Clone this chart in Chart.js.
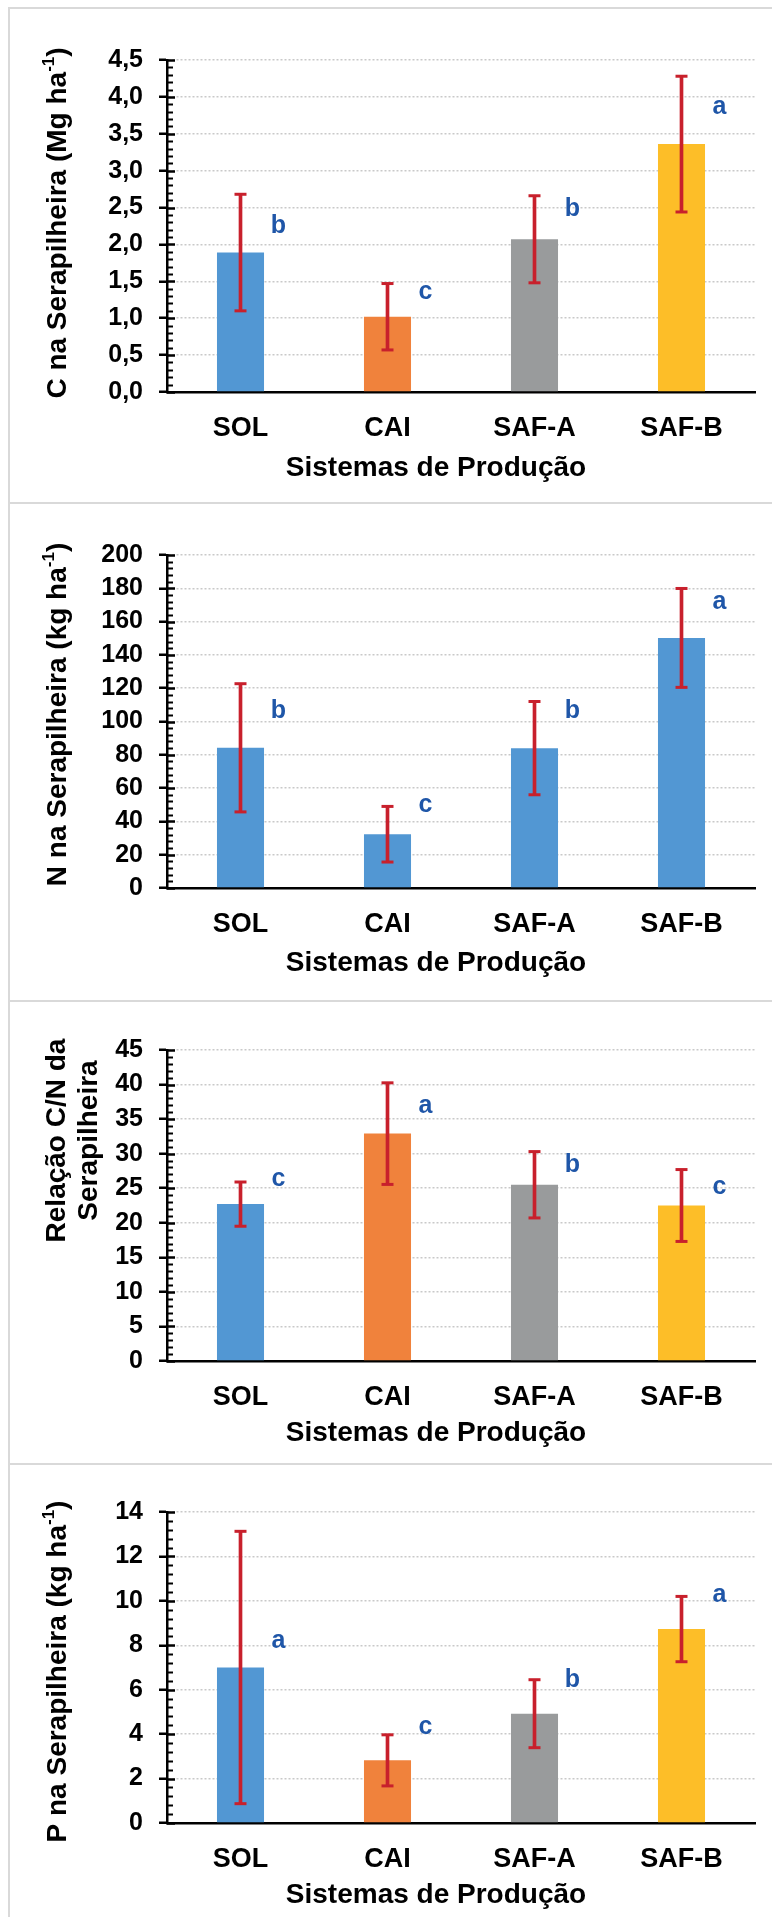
<!DOCTYPE html>
<html lang="pt-BR">
<head>
<meta charset="utf-8">
<title>Serapilheira por sistema de produção</title>
<script src="https://cdn.jsdelivr.net/npm/chart.js@4.4.1/dist/chart.umd.min.js"></script>
<style>
  html, body { margin: 0; padding: 0; background: #fff; }
  body { width: 772px; height: 1917px; position: relative; overflow: hidden; }
  .rule { position: absolute; background: #D9D9D9; }
  .panel { position: absolute; left: 0; width: 772px; }
  canvas { display: block; }
</style>
</head>
<body>
<div class="panel" style="top:10px;height:492px"><canvas id="chartC" width="772" height="492"></canvas></div>
<div class="panel" style="top:505px;height:494px"><canvas id="chartN" width="772" height="494"></canvas></div>
<div class="panel" style="top:1003px;height:459px"><canvas id="chartCN" width="772" height="459"></canvas></div>
<div class="panel" style="top:1466px;height:451px"><canvas id="chartP" width="772" height="451"></canvas></div>

<div class="rule" style="left:8px;top:7px;width:2px;height:1910px"></div>
<div class="rule" style="left:8px;top:7px;width:764px;height:2px"></div>
<div class="rule" style="left:8px;top:502px;width:764px;height:2px"></div>
<div class="rule" style="left:8px;top:1000px;width:764px;height:2px"></div>
<div class="rule" style="left:8px;top:1463px;width:764px;height:2px"></div>

<script>
// ---- data ----
const categories = ['SOL', 'CAI', 'SAF-A', 'SAF-B'];

const carbonMean = [1.89, 1.02, 2.07, 3.36];
const carbonSd = [0.79, 0.45, 0.59, 0.92];
const carbonLetters = ['b', 'c', 'b', 'a'];
const carbonLetterAt = [2.25, 1.35, 2.48, 3.86];
const carbonTickLabels = ['0,0', '0,5', '1,0', '1,5', '2,0', '2,5', '3,0', '3,5', '4,0', '4,5'];

const nitrogenMean = [84.2, 32.3, 84.0, 150.2];
const nitrogenSd = [38.5, 16.7, 28.0, 29.7];
const nitrogenLetters = ['b', 'c', 'b', 'a'];
const nitrogenLetterAt = [106.4, 49.9, 106.2, 171.7];
const nitrogenTickLabels = ['0', '20', '40', '60', '80', '100', '120', '140', '160', '180', '200'];

const ratioMean = [22.7, 32.9, 25.5, 22.5];
const ratioSd = [3.2, 7.35, 4.8, 5.2];
const ratioLetters = ['c', 'a', 'b', 'c'];
const ratioLetterAt = [26.3, 36.9, 28.4, 25.2];
const ratioTickLabels = ['0', '5', '10', '15', '20', '25', '30', '35', '40', '45'];

const phosphorusMean = [7.0, 2.82, 4.92, 8.73];
const phosphorusSd = [6.13, 1.15, 1.53, 1.47];
const phosphorusLetters = ['a', 'c', 'b', 'a'];
const phosphorusLetterAt = [8.19, 4.30, 6.42, 10.25];
const phosphorusTickLabels = ['0', '2', '4', '6', '8', '10', '12', '14'];

// ---- styling ----
const FONT = '"Liberation Sans", Arial, Helvetica, sans-serif';
const BLUE = '#5297D3', ORANGE = '#F0823C', GRAY = '#999B9C', YELLOW = '#FDBE28';
const ERR_RED = '#C8202C';
const LETTER_BLUE = '#1F56A8';

// minor tick marks on the inner side of the value axis
const innerTicks = {
  id: 'innerTicks',
  afterDraw(chart, args, o) {
    const y = chart.scales.y;
    const ctx = chart.ctx;
    const x0 = chart.chartArea.left;
    const n = Math.round((y.max - y.min) / o.minor);
    const per = Math.round(o.major / o.minor);
    ctx.save();
    ctx.strokeStyle = '#000';
    for (let k = 0; k <= n; k++) {
      const major = k % per === 0;
      const py = Math.round(y.getPixelForValue(y.min + k * o.minor)) + 0.5;
      ctx.lineWidth = major ? 2.5 : 2;
      ctx.beginPath();
      ctx.moveTo(x0, py);
      ctx.lineTo(x0 + (major ? 8 : 6), py);
      ctx.stroke();
    }
    ctx.restore();
  }
};

// axis captions and significance letters
function drawRich(ctx, segs, size) {
  const parts = segs.map(s => {
    const fs = s.sup ? Math.round(size * 0.62) : size;
    ctx.font = `bold ${fs}px ${FONT}`;
    return { t: s.t, fs, sup: !!s.sup, w: ctx.measureText(s.t).width };
  });
  const total = parts.reduce((a, p) => a + p.w, 0);
  let x = -total / 2;
  ctx.textAlign = 'left';
  ctx.textBaseline = 'middle';
  for (const p of parts) {
    ctx.font = `bold ${p.fs}px ${FONT}`;
    ctx.fillText(p.t, x, p.sup ? -size * 0.3 : 0);
    x += p.w;
  }
}

const captions = {
  id: 'captions',
  afterDraw(chart, args, o) {
    const { ctx, chartArea: a } = chart;
    const xs = chart.scales.x, ys = chart.scales.y;
    ctx.save();
    ctx.fillStyle = LETTER_BLUE;
    ctx.font = `bold ${o.letterSize}px ${FONT}`;
    ctx.textAlign = 'center';
    ctx.textBaseline = 'middle';
    o.letters.forEach((t, i) => {
      ctx.fillText(t, xs.getPixelForValue(i) + o.letterDx, ys.getPixelForValue(o.letterAt[i]));
    });

    ctx.fillStyle = '#000';
    ctx.font = `bold ${o.xTitleSize}px ${FONT}`;
    ctx.fillText(o.xTitle, (a.left + a.right) / 2 + o.xTitleDx, a.bottom + o.xTitleDy);

    const cy = (a.top + a.bottom) / 2 + o.yTitleDy;
    o.yTitle.forEach((line, li) => {
      ctx.save();
      ctx.translate(o.yTitleX + li * o.yTitleGap, cy);
      ctx.rotate(-Math.PI / 2);
      drawRich(ctx, line, o.yTitleSize);
      ctx.restore();
    });
    ctx.restore();
  }
};

function makePanel(id, s) {
  const lo = s.mean.map((m, i) => +(m - s.sd[i]).toFixed(3));
  const hi = s.mean.map((m, i) => +(m + s.sd[i]).toFixed(3));
  const capStyle = {
    type: 'line', showLine: false, pointStyle: 'line',
    pointRadius: 6, pointHoverRadius: 6, pointBorderWidth: 3,
    pointBorderColor: ERR_RED, pointBackgroundColor: ERR_RED, borderColor: ERR_RED, order: 1
  };
  return new Chart(document.getElementById(id), {
    type: 'bar',
    data: {
      labels: categories,
      datasets: [
        Object.assign({ data: hi }, capStyle),
        Object.assign({ data: lo }, capStyle),
        { type: 'bar', data: lo.map((l, i) => [l, hi[i]]), backgroundColor: ERR_RED,
          barThickness: 3, grouped: false, borderWidth: 0, order: 2 },
        { type: 'bar', data: s.mean, backgroundColor: s.colors, grouped: false,
          categoryPercentage: 0.8, barPercentage: 0.4, borderWidth: 0, order: 3 }
      ]
    },
    options: {
      responsive: false,
      animation: false,
      events: [],
      layout: { padding: { top: s.padTop, right: 17, bottom: 0, left: 0 } },
      scales: {
        x: {
          grid: { display: false },
          border: { display: true, color: '#000', width: 2.5 },
          ticks: { color: '#000', font: { family: FONT, weight: 'bold', size: 27 }, padding: 12 },
          afterFit: sc => { sc.height = s.xAxisH; }
        },
        y: {
          min: 0, max: s.max,
          ticks: {
            stepSize: s.step, autoSkip: false, color: '#000', padding: 16,
            font: { family: FONT, weight: 'bold', size: 25 },
            callback: v => s.tickLabels[Math.round(v / s.step)]
          },
          grid: { color: '#C9C9C9', lineWidth: 1.5, drawTicks: true, tickLength: 8,
                  tickColor: '#000', tickWidth: 2.5, tickBorderDash: [] },
          border: { display: true, color: '#000', width: 2.5, dash: [2, 2] },
          afterFit: sc => { sc.width = 167; }
        }
      },
      plugins: {
        legend: { display: false },
        tooltip: { enabled: false },
        innerTicks: { major: s.step, minor: s.minor },
        captions: {
          letters: s.letters, letterAt: s.letterAt, letterDx: 38, letterSize: 25,
          xTitle: 'Sistemas de Produção', xTitleSize: 28, xTitleDx: -25, xTitleDy: s.xTitleDy,
          yTitle: s.yTitle, yTitleSize: 28, yTitleX: s.yTitleX, yTitleGap: 32, yTitleDy: s.yTitleDy
        }
      }
    },
    plugins: [innerTicks, captions]
  });
}

const fourColors = [BLUE, ORANGE, GRAY, YELLOW];

makePanel('chartC', {
  mean: carbonMean, sd: carbonSd, letters: carbonLetters, letterAt: carbonLetterAt,
  tickLabels: carbonTickLabels, max: 4.5, step: 0.5, minor: 0.1, colors: fourColors,
  padTop: 50, xAxisH: 110, xTitleDy: 76,
  yTitle: [[{ t: 'C na Serapilheira (Mg ha' }, { t: '-1', sup: true }, { t: ')' }]],
  yTitleX: 58, yTitleDy: -3
});

makePanel('chartN', {
  mean: nitrogenMean, sd: nitrogenSd, letters: nitrogenLetters, letterAt: nitrogenLetterAt,
  tickLabels: nitrogenTickLabels, max: 200, step: 20, minor: 4, colors: BLUE,
  padTop: 50, xAxisH: 111, xTitleDy: 75,
  yTitle: [[{ t: 'N na Serapilheira (kg ha' }, { t: '-1', sup: true }, { t: ')' }]],
  yTitleX: 58, yTitleDy: -7
});

makePanel('chartCN', {
  mean: ratioMean, sd: ratioSd, letters: ratioLetters, letterAt: ratioLetterAt,
  tickLabels: ratioTickLabels, max: 45, step: 5, minor: 1, colors: fourColors,
  padTop: 47, xAxisH: 101, xTitleDy: 72,
  yTitle: [[{ t: 'Relação C/N da' }], [{ t: 'Serapilheira' }]],
  yTitleX: 57, yTitleDy: -65
});

makePanel('chartP', {
  mean: phosphorusMean, sd: phosphorusSd, letters: phosphorusLetters, letterAt: phosphorusLetterAt,
  tickLabels: phosphorusTickLabels, max: 14, step: 2, minor: 0.4, colors: fourColors,
  padTop: 46, xAxisH: 94, xTitleDy: 72,
  yTitle: [[{ t: 'P na Serapilheira (kg ha' }, { t: '-1', sup: true }, { t: ')' }]],
  yTitleX: 58, yTitleDy: 4
});
</script>
</body>
</html>
